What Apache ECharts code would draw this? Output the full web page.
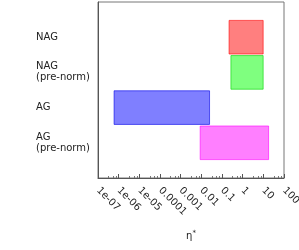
<!DOCTYPE html>
<html>
<head>
<meta charset="utf-8">
<script src="https://cdn.jsdelivr.net/npm/echarts@6/dist/echarts.min.js"></script>
<style>html,body{margin:0;padding:0;background:#fff;}#c{width:299px;height:250px;}</style>
</head>
<body>
<div id="c"></div>
<script>
const categories = ['NAG', 'NAG\n(pre-norm)', 'AG', 'AG\n(pre-norm)'];
const lowValues = [0.22, 0.27, 6e-7, 0.0088];
const highValues = [9.8, 9.8, 0.025, 18];
const tickLabels = ['1e-07', '1e-06', '1e-05', '0.0001', '0.001', '0.01', '0.1', '1', '10', '100'];
const fillColors = ['rgba(255,0,0,0.5)', 'rgba(0,255,0,0.5)', 'rgba(0,0,255,0.5)', 'rgba(255,0,255,0.5)'];
const edgeColors = ['rgba(255,0,0,0.6)', 'rgba(0,210,0,0.6)', 'rgba(0,0,230,0.6)', 'rgba(255,0,255,0.6)'];

const yCats = [''].concat(categories, ['']);
const data = categories.map((c, i) => ({
  value: [i + 1, lowValues[i], highValues[i]],
  itemStyle: { color: fillColors[i], borderColor: edgeColors[i] }
}));

const chart = echarts.init(document.getElementById('c'), null, { renderer: 'canvas' });
const font = 'DejaVu Sans';
chart.setOption({
  animation: false,
  backgroundColor: '#fff',
  textStyle: { fontFamily: font },
  grid: { left: 98, right: 15, top: 2, bottom: 72, show: true, borderColor: '#777', borderWidth: 1,
          containLabel: false, outerBoundsMode: 'none' },
  xAxis: {
    type: 'log', logBase: 10, min: 1e-7, max: 100, interval: 1,
    axisLine: { show: true, lineStyle: { color: '#555' } },
    axisTick: { show: true, inside: true, length: 4, lineStyle: { color: '#555' } },
    minorTick: { show: true, splitNumber: 4, length: 2, lineStyle: { color: '#777' } },
    splitLine: { show: false },
    axisLabel: {
      rotate: -45, margin: 11, fontSize: 10, fontFamily: font, color: '#222',
      formatter: function (v) {
        const k = Math.round(Math.log10(v)) + 7;
        return tickLabels[k] !== undefined ? tickLabels[k] : '';
      }
    },
    name: '{a|η}{s|*}', nameLocation: 'middle', nameGap: 52,
    nameTextStyle: {
      rich: {
        a: { fontSize: 10, fontFamily: font, color: '#222' },
        s: { fontSize: 7, fontFamily: font, color: '#222', verticalAlign: 'top', padding: [0, 0, 6, 0] }
      }
    }
  },
  yAxis: {
    type: 'category', data: yCats, inverse: true, boundaryGap: false,
    axisLine: { show: true, lineStyle: { color: '#555' } },
    axisTick: { show: false },
    splitLine: { show: false },
    axisLabel: {
      align: 'left', margin: 62, fontSize: 10, lineHeight: 11, fontFamily: font, color: '#222',
      showMinLabel: false, showMaxLabel: false
    }
  },
  series: [{
    type: 'custom',
    encode: { x: [1, 2], y: 0 },
    data: data,
    renderItem: function (params, api) {
      const c = api.value(0);
      const p0 = api.coord([api.value(1), c]);
      const p1 = api.coord([api.value(2), c]);
      const h = api.size([1, 1], [1, c])[1] * 0.955;
      const item = data[params.dataIndex].itemStyle;
      return {
        type: 'rect',
        shape: { x: p0[0], y: p0[1] - h / 2, width: p1[0] - p0[0], height: h },
        style: { fill: item.color, stroke: item.borderColor, lineWidth: 1 }
      };
    }
  }]
});
</script>
</body>
</html>
